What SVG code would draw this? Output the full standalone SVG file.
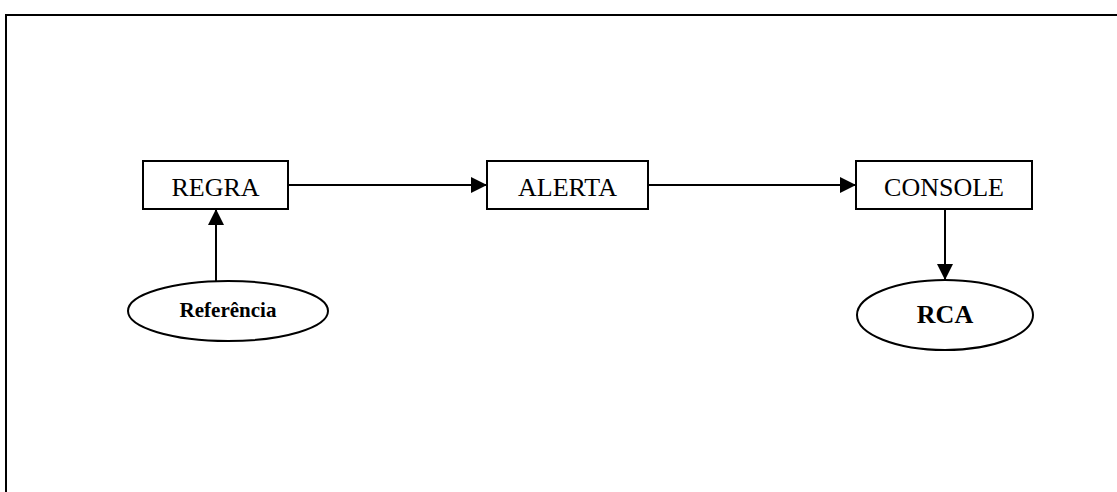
<svg xmlns="http://www.w3.org/2000/svg" width="1117" height="492" viewBox="0 0 1117 492">
<style>
.box{fill:#fff;stroke:#000;stroke-width:2}
.ell{fill:#fff;stroke:#000;stroke-width:2}
.lbl{font-family:"Liberation Serif","Times New Roman",serif;font-size:26px;fill:#000;text-anchor:middle}
.b{font-weight:bold}
.conn{stroke:#000;stroke-width:2;fill:none}
</style>
<defs>
<marker id="ah" markerUnits="userSpaceOnUse" markerWidth="16" markerHeight="16" refX="16" refY="8" orient="auto">
<path d="M0,0 L16,8 L0,16 Z" fill="#000"/>
</marker>
</defs>
<rect width="1117" height="492" fill="#fff"/>
<path d="M6,492 V15 H1117" fill="none" stroke="#000" stroke-width="2"/>
<g id="connectors">
<line class="conn" x1="288" y1="185" x2="487" y2="185" marker-end="url(#ah)"/>
<line class="conn" x1="648" y1="185" x2="856" y2="185" marker-end="url(#ah)"/>
<line class="conn" x1="216" y1="281" x2="216" y2="209" marker-end="url(#ah)"/>
<line class="conn" x1="945" y1="209" x2="945" y2="280" marker-end="url(#ah)"/>
</g>
<g id="regra">
<rect class="box" x="143" y="161" width="145" height="48"/>
<text class="lbl" x="215.5" y="196">REGRA</text>
</g>
<g id="alerta">
<rect class="box" x="487" y="161" width="161" height="48"/>
<text class="lbl" x="567.5" y="196">ALERTA</text>
</g>
<g id="console">
<rect class="box" x="856" y="161" width="176" height="48"/>
<text class="lbl" x="944" y="196">CONSOLE</text>
</g>
<g id="referencia">
<ellipse class="ell" cx="228" cy="311" rx="100" ry="30"/>
<text class="lbl b" x="228" y="317" style="font-size:21px">Referência</text>
</g>
<g id="rca">
<ellipse class="ell" cx="945" cy="315" rx="88" ry="35"/>
<text class="lbl b" x="945" y="323">RCA</text>
</g>
</svg>
